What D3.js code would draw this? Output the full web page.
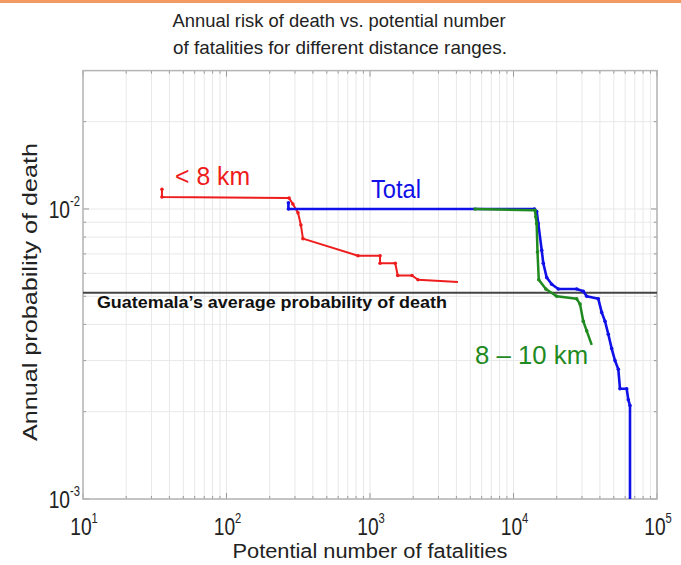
<!DOCTYPE html>
<html>
<head>
<meta charset="utf-8">
<script src="https://cdn.jsdelivr.net/npm/d3@7"></script>
<style>
  body { margin: 0; background: #fff; }
  svg text { font-family: "Liberation Sans", Arial, sans-serif; }
</style>
</head>
<body>
<script>
let w = 681;
let h = 565;

// plot box (pixels)
let boxL = 83, boxR = 657, boxT = 70.6, boxB = 499;

// data: [fatalities, annual probability]
const near8 = [[35.5, 0.0117], [35.5, 0.0110], [273, 0.0109], [290, 0.0104], [315, 0.0097],
               [330, 0.0088], [341, 0.0079], [825, 0.0069], [1175, 0.0069], [1175, 0.0065],
               [1500, 0.0065], [1560, 0.0059], [1963, 0.0059], [2160, 0.0057], [4100, 0.0056]];
const total = [[270, 0.0105], [270, 0.0100], [14000, 0.0100], [14510, 0.0098], [14890, 0.0089],
               [15730, 0.0072], [16130, 0.0065], [17040, 0.0058], [18460, 0.0055], [20520, 0.0053],
               [27570, 0.0053], [30640, 0.0052], [32370, 0.0050], [39000, 0.0049], [41170, 0.0044],
               [43420, 0.0041], [45780, 0.0037], [48340, 0.0033], [50970, 0.0030], [53750, 0.0028],
               [55210, 0.0024], [61500, 0.0024], [63100, 0.0022], [64830, 0.0021], [64830, 0.001]];
const km8to10 = [[5400, 0.0100], [14100, 0.0099], [14300, 0.0094], [14500, 0.0089], [14700, 0.0071],
                 [15000, 0.0057], [16800, 0.0053], [20000, 0.0050], [27570, 0.0049], [29070, 0.0047],
                 [30640, 0.0041], [32370, 0.0038], [35080, 0.0034]];
const guatemalaAvg = 0.00514;

const xDecades = [1e1, 1e2, 1e3, 1e4, 1e5];
const yDecades = [1e-3, 1e-2];
const xExp = ["1", "2", "3", "4", "5"];
const yExp = ["-3", "-2"];

let svg = d3.select("body").append("svg")
            .attr("width", w)
            .attr("height", h);

svg.append("rect").attr("x", 0).attr("y", 0).attr("width", w).attr("height", 3).attr("fill", "#f39a62");

let x = d3.scaleLog([10, 1e5], [boxL, boxR]);
let y = d3.scaleLog([1e-3, 3e-2], [boxB, boxT]);

// minor + major values
let xMinor = [];
for (let e = 1; e < 5; e++) for (let k = 1; k < 10; k++) xMinor.push(k * Math.pow(10, e));
xMinor.push(1e5);
let yMinor = [];
for (let k = 1; k < 10; k++) yMinor.push(k * 1e-3);
yMinor.push(0.01, 0.02, 0.03);

// grid
let grid = svg.append("g").attr("stroke", "#e8e8e8").attr("stroke-width", 1);
grid.selectAll(".vg").data(xMinor).enter().append("line")
    .attr("x1", d => x(d)).attr("x2", d => x(d)).attr("y1", boxT).attr("y2", boxB);
grid.selectAll(".hg").data(yMinor).enter().append("line")
    .attr("y1", d => y(d)).attr("y2", d => y(d)).attr("x1", boxL).attr("x2", boxR);

// ticks on all four sides (inside)
let ticks = svg.append("g").attr("stroke", "#999").attr("stroke-width", 1);
xMinor.forEach(d => {
  let len = xDecades.includes(d) ? 6 : 3;
  ticks.append("line").attr("x1", x(d)).attr("x2", x(d)).attr("y1", boxB).attr("y2", boxB - len);
  ticks.append("line").attr("x1", x(d)).attr("x2", x(d)).attr("y1", boxT).attr("y2", boxT + len);
});
yMinor.forEach(d => {
  let len = yDecades.includes(d) ? 6 : 3;
  ticks.append("line").attr("y1", y(d)).attr("y2", y(d)).attr("x1", boxL).attr("x2", boxL + len);
  ticks.append("line").attr("y1", y(d)).attr("y2", y(d)).attr("x1", boxR).attr("x2", boxR - len);
});

svg.append("rect")
   .attr("x", boxL).attr("y", boxT).attr("width", boxR - boxL).attr("height", boxB - boxT)
   .attr("fill", "none").attr("stroke", "#b5b5b5").attr("stroke-width", 1.5);

// tick labels (squeezed horizontally like the source figure)
let xl = svg.append("g").attr("font-size", 24).attr("fill", "#222");
xDecades.forEach((d, i) => {
  let t = xl.append("text").attr("text-anchor", "middle")
            .attr("transform", `translate(${x(d) + 1},535) scale(0.8,1)`);
  t.append("tspan").text("10");
  t.append("tspan").attr("font-size", 14).attr("dy", -12).text(xExp[i]);
});
let yl = svg.append("g").attr("font-size", 24).attr("fill", "#222");
yDecades.forEach((d, i) => {
  let t = yl.append("text").attr("text-anchor", "end")
            .attr("transform", `translate(80,${y(d) + 9}) scale(0.8,1)`);
  t.append("tspan").text("10");
  t.append("tspan").attr("font-size", 14).attr("dy", -12).text(yExp[i]);
});

// Guatemala average
svg.append("line")
   .attr("x1", boxL).attr("x2", boxR)
   .attr("y1", y(guatemalaAvg)).attr("y2", y(guatemalaAvg))
   .attr("stroke", "#444").attr("stroke-width", 2);
svg.append("text")
   .attr("x", x(12.5)).attr("y", y(0.00454))
   .attr("font-size", 17).attr("font-weight", "bold").attr("fill", "#111")
   .attr("textLength", 350).attr("lengthAdjust", "spacingAndGlyphs")
   .text("Guatemala\u2019s average probability of death");

// series
let line = d3.line().x(d => x(d[0])).y(d => y(d[1]));
const series = [
  { data: near8, color: "#ee1c1c", width: 2 },
  { data: total, color: "#1010e8", width: 2.6 },
  { data: km8to10, color: "#1f8a1f", width: 2.5 }
];
series.forEach(s => {
  svg.append("path").datum(s.data).attr("d", line)
     .attr("fill", "none").attr("stroke", s.color).attr("stroke-width", s.width)
     .attr("stroke-linejoin", "round");
  svg.append("g").selectAll("circle").data(s.data.slice(0, -1)).enter().append("circle")
     .attr("cx", d => x(d[0])).attr("cy", d => y(d[1])).attr("r", 1.8).attr("fill", s.color);
});

// series labels
svg.append("text").attr("x", x(43.8)).attr("y", y(0.0121))
   .attr("font-size", 26).attr("fill", "#ee1c1c")
   .attr("textLength", 75).attr("lengthAdjust", "spacingAndGlyphs").text("< 8 km");
svg.append("text").attr("x", x(1016)).attr("y", y(0.0109))
   .attr("font-size", 26).attr("fill", "#1010e8")
   .attr("textLength", 50).attr("lengthAdjust", "spacingAndGlyphs").text("Total");
svg.append("text").attr("x", x(5400)).attr("y", y(0.00292))
   .attr("font-size", 26).attr("fill", "#1f8a1f")
   .attr("textLength", 113).attr("lengthAdjust", "spacingAndGlyphs").text("8 \u2013 10 km");

// titles
svg.append("text").attr("x", 339).attr("y", 27).attr("text-anchor", "middle")
   .attr("font-size", 19).attr("fill", "#222")
   .attr("textLength", 333).attr("lengthAdjust", "spacingAndGlyphs")
   .text("Annual risk of death vs. potential number");
svg.append("text").attr("x", 340).attr("y", 54).attr("text-anchor", "middle")
   .attr("font-size", 19).attr("fill", "#222")
   .attr("textLength", 334).attr("lengthAdjust", "spacingAndGlyphs")
   .text("of fatalities for different distance ranges.");

svg.append("text").attr("x", 370).attr("y", 558).attr("text-anchor", "middle")
   .attr("font-size", 20).attr("fill", "#222")
   .attr("textLength", 275).attr("lengthAdjust", "spacingAndGlyphs")
   .text("Potential number of fatalities");
svg.append("text").attr("transform", "translate(37,292) rotate(-90)").attr("text-anchor", "middle")
   .attr("font-size", 20).attr("fill", "#222")
   .attr("textLength", 298).attr("lengthAdjust", "spacingAndGlyphs")
   .text("Annual probability of death");
</script>
</body>
</html>
